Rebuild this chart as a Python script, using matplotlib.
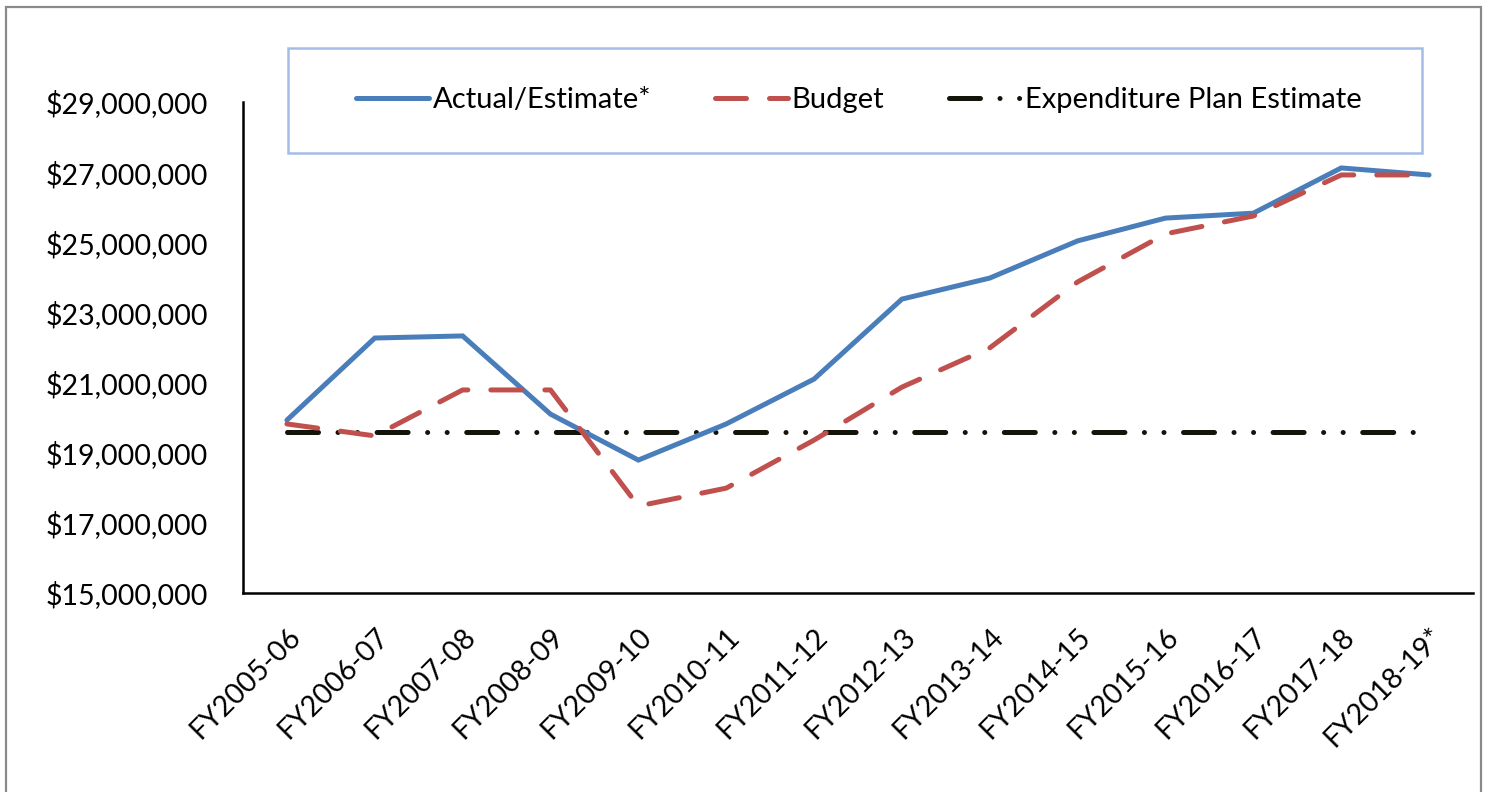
import matplotlib
matplotlib.use("Agg")
import matplotlib.pyplot as plt
from matplotlib.patches import Rectangle
from matplotlib.ticker import FuncFormatter

plt.rcParams['font.family'] = ['Lato', 'DejaVu Sans']

categories = ["FY2005-06", "FY2006-07", "FY2007-08", "FY2008-09", "FY2009-10",
              "FY2010-11", "FY2011-12", "FY2012-13", "FY2013-14", "FY2014-15",
              "FY2015-16", "FY2016-17", "FY2017-18", "FY2018-19*"]
actual = [19.93, 22.27, 22.33, 20.10, 18.79, 19.82, 21.10, 23.38, 23.98,
          25.04, 25.69, 25.83, 27.12, 26.92]
budget = [19.82, 19.48, 20.79, 20.79, 17.48, 17.99, 19.36, 20.87, 21.99,
          23.87, 25.24, 25.75, 26.92, 26.92]
plan = [19.59] * 14
actual = [v * 1e6 for v in actual]
budget = [v * 1e6 for v in budget]
plan = [v * 1e6 for v in plan]

W, H = 1486, 792
fig = plt.figure(figsize=(W / 100, H / 100), dpi=100)
ax = fig.add_axes([243 / W, 1 - 593 / H, (1473 - 243) / W, (593 - 102) / H])

x = list(range(len(categories)))
lw = 3.6
ax.plot(x, actual, color='#4a7ebb', lw=lw, solid_capstyle='round',
        solid_joinstyle='miter', label='Actual/Estimate*', zorder=3)
ax.plot(x, budget, color='#c0504d', lw=lw, dash_capstyle='round',
        dashes=(6.2, 4.6), label='Budget', zorder=4)
ax.plot(x, plan, color='#14140a', lw=lw, dash_capstyle='round',
        dashes=(6.2, 3.9, 0.01, 3.9, 0.01, 3.9), label='Expenditure Plan Estimate', zorder=2)

ax.set_xlim(-0.5, len(categories) - 0.5)
ax.set_ylim(15e6, 29e6)
ax.set_yticks([15e6, 17e6, 19e6, 21e6, 23e6, 25e6, 27e6, 29e6])
ax.yaxis.set_major_formatter(FuncFormatter(lambda v, p: "${:,.0f}".format(v)))
ax.set_xticks(x)
ax.set_xticklabels(categories, rotation=45, ha='right', rotation_mode='anchor')
ax.tick_params(axis='both', length=0, labelsize=20.5, colors='black')
ax.tick_params(axis='y', pad=25)
ax.tick_params(axis='x', pad=22)
for s in ['top', 'right']:
    ax.spines[s].set_visible(False)
for s in ['left', 'bottom']:
    ax.spines[s].set_linewidth(1.8)
    ax.spines[s].set_color('black')

# legend box
fig.patches.append(Rectangle((288 / W, 1 - 153 / H), (1422 - 288) / W, (153 - 48) / H,
                             transform=fig.transFigure, facecolor='white',
                             edgecolor='#a4bde6', lw=1.8, zorder=0))
leg = fig.legend(loc='center', bbox_to_anchor=(859 / W, 1 - 100 / H), ncol=3,
                 frameon=False, fontsize=21, handlelength=2.5, handletextpad=0.12,
                 columnspacing=2.2)

# outer frame
fig.patches.append(Rectangle((6 / W, -0.02), (1481 - 6) / W, 1 - 7 / H + 0.02,
                             transform=fig.transFigure, facecolor='none',
                             edgecolor='#8a8a8a', lw=1.6, zorder=0))

fig.savefig('out.png', dpi=100)
